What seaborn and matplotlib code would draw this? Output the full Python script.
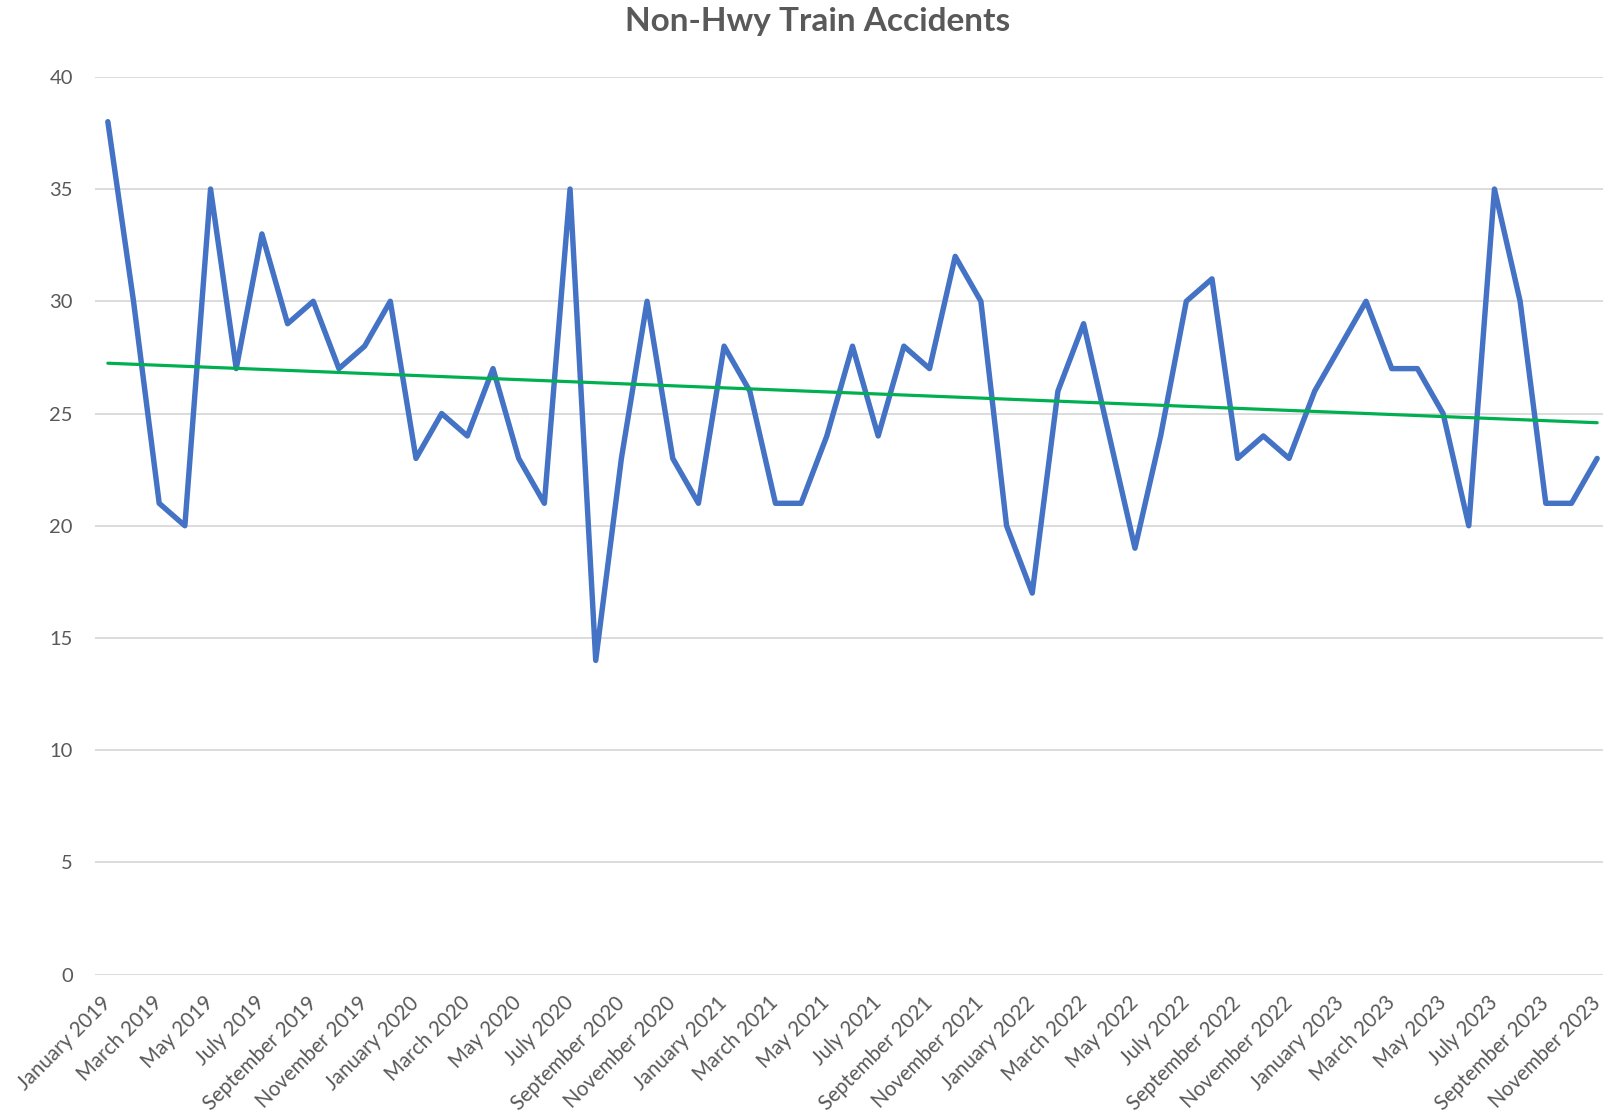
import matplotlib
matplotlib.use("Agg")
import matplotlib.pyplot as plt
import numpy as np
import pandas as pd
import seaborn as sns

# Monthly non-highway train accidents, January 2019 .. November 2023
years = [2019] * 12 + [2020] * 12 + [2021] * 12 + [2022] * 12 + [2023] * 11
month_names = ["January", "February", "March", "April", "May", "June", "July",
               "August", "September", "October", "November", "December"]
accidents = [
    38, 30, 21, 20, 35, 27, 33, 29, 30, 27, 28, 30,   # 2019
    23, 25, 24, 27, 23, 21, 35, 14, 23, 30, 23, 21,   # 2020
    28, 26, 21, 21, 24, 28, 24, 28, 27, 32, 30, 20,   # 2021
    17, 26, 29, 24, 19, 24, 30, 31, 23, 24, 23, 26,   # 2022
    28, 30, 27, 27, 25, 20, 35, 30, 21, 21, 23,       # 2023
]
y_ticks = [0, 5, 10, 15, 20, 25, 30, 35, 40]

labels = [f"{month_names[i % 12]} {y}" for i, y in enumerate(years)]
df = pd.DataFrame({"idx": np.arange(len(accidents)), "label": labels, "count": accidents})

# linear trendline, as Excel draws it
coef = np.polyfit(df["idx"], df["count"], 1)
df["trend"] = np.polyval(coef, df["idx"])

sns.set_style("white")
plt.rcParams["font.family"] = ["Lato", "DejaVu Sans"]

BLUE = "#4472C4"
GREEN = "#00B050"
GRAY_TXT = "#595959"

fig = plt.figure(figsize=(16.03, 11.18), dpi=100)
ax = fig.add_axes([95 / 1603, 143.3 / 1118, 1 - 95 / 1603, (1041.2 - 143.3) / 1118])

sns.lineplot(data=df, x="idx", y="count", ax=ax, color=BLUE, linewidth=3.9,
             solid_joinstyle="round", solid_capstyle="round", zorder=3)
sns.lineplot(data=df, x="idx", y="trend", ax=ax, color=GREEN, linewidth=2.3,
             solid_capstyle="round", zorder=4)

ax.set_xlim(-0.5, (1603 - 108.3) / 25.67)
ax.set_ylim(0, 40)
ax.set_yticks(y_ticks)
ax.set_yticklabels([str(v) for v in y_ticks], fontsize=14.5, color=GRAY_TXT)
ax.set_xticks(df["idx"][::2])
ax.set_xticklabels(df["label"][::2], rotation=45, ha="right", va="center",
                   rotation_mode="anchor", fontsize=14.8, color=GRAY_TXT)
ax.tick_params(axis="both", length=0)
ax.tick_params(axis="y", pad=16)
ax.tick_params(axis="x", pad=18)
ax.grid(axis="y", color="#D9D9D9", linewidth=1.3)
ax.set_axisbelow(True)
for s in ax.spines.values():
    s.set_visible(False)
ax.set_xlabel("")
ax.set_ylabel("")

fig.text(0.51, 1 - 22 / 1118, "Non-Hwy Train Accidents", ha="center", va="center",
         fontsize=24, fontweight="bold", color=GRAY_TXT)

fig.savefig("out.png", dpi=100, facecolor="white")
